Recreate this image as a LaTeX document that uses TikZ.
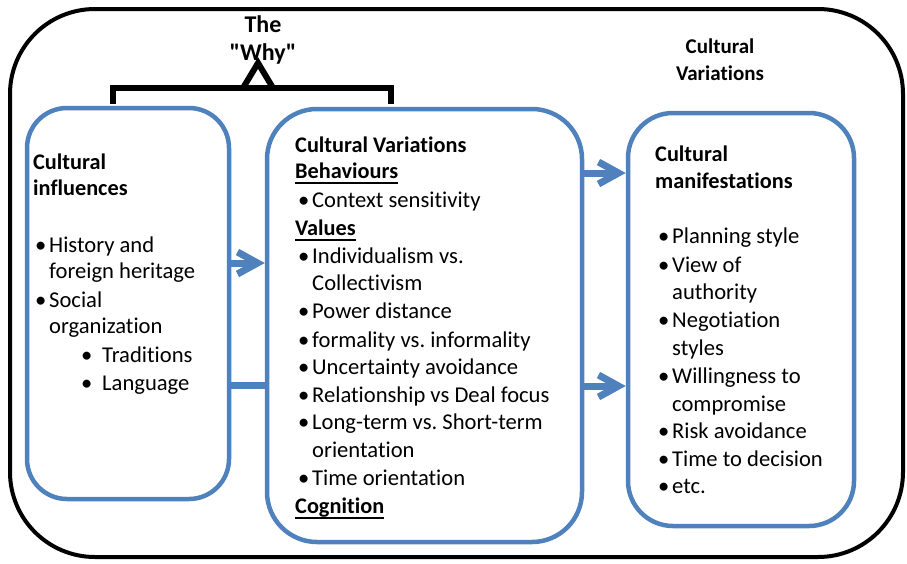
\documentclass[tikz,border=0pt]{standalone}
\usepackage{fontspec}
\setmainfont{Carlito}[Ligatures=NoCommon]
\usetikzlibrary{arrows.meta}
\definecolor{boxblue}{RGB}{79,129,189}
\newcommand{\bul}[1][14pt]{\makebox[#1][l]{\textbullet}}
\newcommand{\myul}[1]{\leavevmode\setbox0\hbox{#1}\rlap{\rule[-6pt]{\wd0}{1.8pt}}\box0}
\frenchspacing
\begin{document}
\begin{tikzpicture}[x=1pt,y=-1pt,
  frame/.style={draw=black, line width=4pt, rounded corners=85pt, inner sep=0pt},
  bluebox/.style={draw=boxblue, line width=4.5pt, inner sep=0pt},
  ln/.style={anchor=base west, inner sep=0pt, font=\fontsize{22.6}{26}\selectfont},
  hd/.style={anchor=base west, inner sep=0pt, font=\fontsize{22.3}{26}\selectfont\bfseries},
  ttl/.style={anchor=base, inner sep=0pt, font=\fontsize{24}{28}\selectfont\bfseries},
  cvt/.style={anchor=base, inner sep=0pt, font=\fontsize{21}{26}\selectfont\bfseries},
  flow/.style={draw=boxblue, line width=7pt},
  arr/.style={flow, -{Straight Barb[length=20pt,width=22pt]}},
  brk/.style={draw=black, line width=6pt}
]
\useasboundingbox (0,0) rectangle (907,563);
\node[frame, minimum width=893pt, minimum height=548pt] (frame) at (456.5,283) {};

% boxes
\node[bluebox, rounded corners=40pt, minimum width=202pt, minimum height=391pt] (lbox) at (128,303.5) {};
\node[bluebox, rounded corners=50pt, minimum width=315pt, minimum height=433pt] (mbox) at (424.5,325.5) {};
\node[bluebox, rounded corners=45pt, minimum width=226pt, minimum height=413pt] (rbox) at (741,319.5) {};

% top texts
\node[ttl] (the) at (263,32) {The};
\node[ttl] (why) at (263,60) {\textquotedbl Why\textquotedbl};
\node[cvt] (cv1) at (720,53) {Cultural};
\node[cvt] (cv2) at (720,80) {Variations};

% bracket
\coordinate (bl) at (113,104);
\coordinate (br) at (391,104);
\draw[brk, line join=miter] (bl) |- (br |- 0,88) -- (br);
\draw[brk, line join=miter] (243,88) -- (258,63) -- (273,88);

% left box text
\node[hd] (l1) at (33,169) {Cultural};
\node[hd] (l2) at (33,195) {influences};
\node[ln] (l3) at (35,252) {\bul History and};
\node[ln] (l4) at (49,278) {foreign heritage};
\node[ln] (l5) at (35,307) {\bul Social};
\node[ln] (l6) at (49,333) {organization};
\node[ln] (l7) at (81,362) {\bul[21pt]Traditions};
\node[ln] (l8) at (81,390) {\bul[21pt]Language};

% middle box text
\node[hd] (m1) at (295,152) {Cultural Variations};
\node[hd] (m2) at (295,178) {\myul{Behaviours}};
\node[ln] (m3) at (298,207) {\bul Context sensitivity};
\node[hd] (m4) at (295,235) {\myul{Values}};
\node[ln] (m5) at (298,263) {\bul Individualism vs.};
\node[ln] (m6) at (312,290) {Collectivism};
\node[ln] (m7) at (298,318) {\bul Power distance};
\node[ln] (m8) at (298,347) {\bul formality vs. informality};
\node[ln] (m9) at (298,374) {\bul Uncertainty avoidance};
\node[ln] (m10) at (298,402) {\bul Relationship vs Deal focus};
\node[ln] (m11) at (298,429) {\bul Long-term vs. Short-term};
\node[ln] (m12) at (312,457) {orientation};
\node[ln] (m13) at (298,485) {\bul Time orientation};
\node[hd] (m14) at (295,513) {\myul{Cognition}};

% right box text
\node[hd] (r1) at (655,161) {Cultural};
\node[hd] (r2) at (655,188) {manifestations};
\node[ln] (r3) at (658,243) {\bul Planning style};
\node[ln] (r4) at (658,272) {\bul View of};
\node[ln] (r5) at (672,299) {authority};
\node[ln] (r6) at (658,327) {\bul Negotiation};
\node[ln] (r7) at (672,355) {styles};
\node[ln] (r8) at (658,383) {\bul Willingness to};
\node[ln] (r9) at (672,411) {compromise};
\node[ln] (r10) at (658,438) {\bul Risk avoidance};
\node[ln] (r11) at (658,466) {\bul Time to decision};
\node[ln] (r12) at (658,493) {\bul etc.};

% connectors
\draw[arr] (lbox.east |- 0,263) -- (mbox.west |- 0,263);
\draw[flow] (lbox.east |- 0,385) -- (mbox.west |- 0,385);
\draw[arr] (mbox.east |- 0,173) -- (rbox.west |- 0,173);
\draw[arr] (mbox.east |- 0,386) -- (rbox.west |- 0,386);
\end{tikzpicture}
\end{document}
